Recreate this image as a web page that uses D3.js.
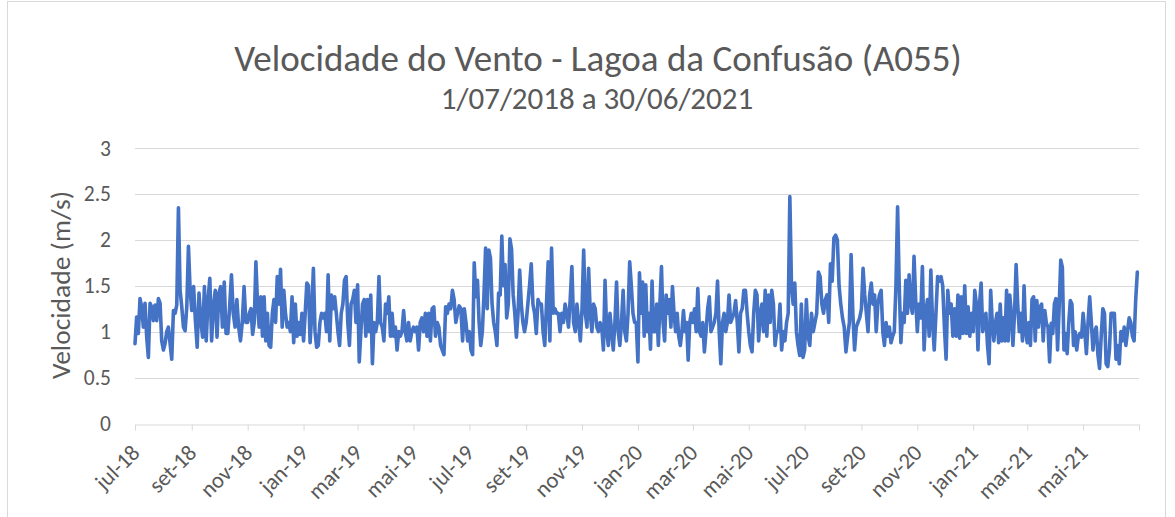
<!DOCTYPE html>
<html>
<head>
<meta charset="utf-8">
<script src="https://cdnjs.cloudflare.com/ajax/libs/d3/7.8.5/d3.min.js"></script>
<style>
	body { margin: 0; background: #fff; }
	svg { display: block; font-family: Calibri, Carlito, Lato, "Open Sans", sans-serif; }
</style>
</head>
<body>
<svg class="chart" width="1175" height="517"></svg>
<script>
(function() {

// DATA - velocidade diaria (m/s), um array por bimestre

	var inicioBimestres = ['2018-07-01','2018-09-01','2018-11-01','2019-01-01','2019-03-01','2019-05-01',
		'2019-07-01','2019-09-01','2019-11-01','2020-01-01','2020-03-01','2020-05-01',
		'2020-07-01','2020-09-01','2020-11-01','2021-01-01','2021-03-01','2021-05-01'];
	var fimSerie = '2021-07-01';

	var jul18 = [0.87,1.16,0.98,1.36,1.27,1.05,1.31,0.94,0.72,1.31,1.27,1.12,1.29,1.12,1.36,1.31,0.9,0.8,0.87,1.0,1.05,0.87,0.7,1.23,1.2,1.29,2.35,1.45,1.27,1.05,1.01,1.27,1.93,1.45];
	var set18 = [1.23,1.49,1.12,0.83,1.42,1.12,0.94,1.49,0.9,1.34,1.58,0.9,1.27,1.45,0.94,1.42,1.49,1.05,1.54,0.98,0.98,1.27,1.62,1.2,1.05,1.35,1.05,0.9,1.1,1.49,1.1];
	var nov18 = [1.1,1.2,1.25,0.97,1.1,1.76,1.3,1.05,1.38,0.95,1.38,0.9,1.2,0.85,0.83,1.2,1.35,1.1,1.6,1.3,1.68,1.05,1.45,1.2,1.05,1.1,1.0,1.38,0.88,1.3,0.95,1.1,0.97,1.2];
	var jan19 = [0.9,1.2,1.53,1.5,0.88,1.2,1.69,1.0,0.83,0.85,1.1,1.2,1.15,1.2,1.0,1.62,0.9,1.4,1.25,1.38,1.2,1.0,0.85,1.2,1.3,1.56,1.6,1.1,0.85,1.3,1.35,1.45,1.1];
	var mar19 = [1.51,0.67,1.0,1.3,1.35,0.95,1.35,1.0,1.4,0.65,1.1,1.0,1.1,1.6,1.1,1.05,0.9,1.3,1.2,1.38,0.95,1.2,0.95,1.05,0.8,1.0,0.95,1.0,1.23,1.0,0.9,1.1,0.9,1.0];
	var mai19 = [1.05,1.0,1.05,0.8,1.1,1.15,1.0,1.2,0.95,1.2,0.9,1.25,1.27,0.95,1.1,1.05,0.85,0.8,0.75,1.27,1.2,1.3,1.25,1.45,1.35,1.1,1.2,1.28,1.25,0.9,1.25,1.1,0.9];
	var jul19 = [1.0,0.8,0.75,1.75,1.38,1.56,1.1,0.85,1.0,1.4,1.91,1.25,1.89,1.8,1.3,1.1,1.0,0.85,1.42,1.4,2.04,1.5,1.73,1.15,1.3,2.01,1.9,1.4,1.2,0.94,1.2,1.67,1.3,1.1,1.0];
	var set19 = [1.1,1.3,1.5,1.74,1.3,1.2,0.98,1.35,1.3,1.3,1.0,0.85,1.3,1.76,0.9,1.91,1.2,1.25,1.2,1.2,1.0,1.2,1.1,1.3,1.2,1.05,1.35,1.71,1.1,1.0,1.3,1.1,0.9];
	var nov19 = [1.25,1.89,1.2,1.05,1.69,1.2,1.0,1.3,1.25,1.05,1.0,1.1,1.05,0.8,1.56,1.0,0.85,1.2,1.0,0.8,1.1,1.54,1.0,0.85,1.1,1.45,1.0,0.9,1.2,1.76,1.5,1.2,1.1,1.1];
	var jan20 = [0.67,1.64,1.2,1.54,0.95,1.51,1.0,1.2,0.81,1.55,1.0,1.0,1.3,0.85,1.3,1.71,1.1,0.9,1.4,1.2,1.35,1.05,1.49,1.2,1.0,1.2,0.95,0.85,1.0,1.23,1.0,1.1,0.69,1.1,1.2];
	var mar20 = [1.1,1.25,1.0,1.47,1.0,0.95,1.1,0.78,1.0,1.25,1.38,1.0,1.05,1.1,1.2,1.55,1.0,0.65,1.1,1.2,1.0,1.1,1.4,1.1,1.15,1.2,1.34,1.1,0.78,1.2,1.25,1.45,1.45,1.2];
	var mai20 = [1.0,0.85,0.78,1.2,1.45,1.4,0.9,1.2,1.3,1.0,1.45,0.95,1.4,1.1,1.45,1.3,0.85,1.0,1.0,1.3,0.8,1.0,0.9,1.1,1.2,2.47,1.5,1.3,1.53,1.0,0.85,0.74,1.3,0.72];
	var jul20 = [0.8,1.35,0.95,0.85,1.2,1.0,1.1,1.2,1.65,1.6,1.3,1.2,1.35,1.4,1.1,1.74,1.55,2.02,2.05,2.0,1.5,1.3,1.15,1.05,0.78,0.95,1.1,1.84,1.2,0.8,1.05,1.1,1.15];
	var set20 = [1.25,1.69,1.4,1.2,1.0,1.4,1.53,1.3,1.4,1.0,1.3,1.4,1.45,1.0,0.85,1.1,0.95,1.05,0.88,0.95,1.0,1.5,2.36,1.5,0.88,1.2,1.1,1.56,1.2,1.62,1.3,1.2,1.82,1.35];
	var nov20 = [1.0,1.3,1.15,1.71,0.8,1.2,1.35,0.95,1.67,1.1,0.8,1.2,1.6,1.55,1.6,1.5,1.05,0.7,1.45,1.2,1.3,0.95,1.25,0.95,1.4,0.93,1.38,0.98,1.5,0.98,1.27,0.95,1.2];
	var jan21 = [1.0,1.45,1.3,0.8,1.3,1.53,1.0,1.1,1.2,0.85,0.65,1.45,1.1,0.9,1.1,1.2,0.88,1.3,0.9,1.15,0.9,1.45,0.9,1.4,1.2,0.85,1.2,1.73,1.3,1.0,1.2,0.9,1.5,1.0];
	var mar21 = [0.88,1.1,0.85,1.35,1.38,0.9,1.34,1.05,1.27,1.3,0.9,1.23,1.09,1.05,0.67,1.09,0.98,1.3,1.36,0.8,1.27,1.78,1.7,0.8,0.98,0.76,1.09,1.34,1.3,0.85,1.0,0.8,0.95,0.98,0.94];
	var mai21 = [1.2,1.0,0.76,1.1,1.38,1.1,0.8,1.0,1.05,0.75,0.6,0.95,1.25,1.2,0.65,0.62,0.8,1.2,1.2,1.2,0.7,0.85,0.65,1.0,0.9,1.05,0.85,1.0,1.15,1.1,0.95,0.9,1.35,1.65];

	var bimestres = [jul18,set18,nov18,jan19,mar19,mai19,jul19,set19,nov19,jan20,mar20,mai20,jul20,set20,nov20,jan21,mar21,mai21];

	var yTicks = [0, 0.5, 1, 1.5, 2, 2.5, 3];
	var mesesPt = ['jan','fev','mar','abr','mai','jun','jul','ago','set','out','nov','dez'];

	var titulo = 'Velocidade do Vento - Lagoa da Confusão (A055)';
	var subtitulo = '1/07/2018 a 30/06/2021';
	var tituloY = 'Velocidade (m/s)';

// VARS

	var svg = d3.select('.chart');
	var parseDate = d3.timeParse('%Y-%m-%d');
	var margin = {left: 135, right: 1139, top: 148, bottom: 423.5};
	var scales = {};
	var serie = [];

	function buildSerie() {
		bimestres.forEach(function(vals, k) {
			var ini = parseDate(inicioBimestres[k]);
			var fim = parseDate(k < inicioBimestres.length - 1 ? inicioBimestres[k + 1] : fimSerie);
			var span = fim - ini;
			vals.forEach(function(v, i) {
				serie.push({ date: new Date(+ini + span * i / vals.length), value: v });
			});
		});
	}

	function setupScales() {
		scales.x = d3.scaleTime()
			.domain([parseDate(inicioBimestres[0]), parseDate(fimSerie)])
			.range([margin.left, margin.right]);
		scales.y = d3.scaleLinear()
			.domain([0, 3])
			.range([margin.bottom, margin.top]);
	}

	function drawFrame() {
		svg.append('rect')
			.attr('x', 7.5).attr('y', 1.5)
			.attr('width', 1158).attr('height', 530)
			.attr('fill', '#fff')
			.attr('stroke', '#d9d9d9');

		svg.append('text')
			.attr('x', 598).attr('y', 71)
			.attr('text-anchor', 'middle')
			.attr('font-size', 37)
			.attr('fill', '#595959')
			.text(titulo);

		svg.append('text')
			.attr('x', 597).attr('y', 109)
			.attr('text-anchor', 'middle')
			.attr('font-size', 31)
			.attr('fill', '#595959')
			.text(subtitulo);
	}

	function drawAxes() {
		// gridlines + y labels
		var gy = svg.append('g').attr('class', 'axis axis--y');
		gy.selectAll('line')
			.data(yTicks.slice(1))
			.enter().append('line')
			.attr('x1', margin.left).attr('x2', margin.right)
			.attr('y1', function(d) { return Math.round(scales.y(d)) + 0.5; })
			.attr('y2', function(d) { return Math.round(scales.y(d)) + 0.5; })
			.attr('stroke', '#d9d9d9');
		gy.selectAll('text')
			.data(yTicks)
			.enter().append('text')
			.attr('x', 111)
			.attr('y', function(d) { return scales.y(d); })
			.attr('dy', '0.35em')
			.attr('text-anchor', 'end')
			.attr('font-size', 21.5)
			.attr('fill', '#595959')
			.text(function(d) { return d; });

		svg.append('text')
			.attr('transform', 'translate(70,285) rotate(-90)')
			.attr('text-anchor', 'middle')
			.attr('font-size', 27.5)
			.attr('fill', '#595959')
			.text(tituloY);

		// x axis
		var tickDates = inicioBimestres.map(parseDate).concat([parseDate(fimSerie)]);
		var xaxis = svg.append('g')
			.attr('class', 'axis axis--x')
			.attr('transform', 'translate(0,' + (Math.round(scales.y(0)) + 0.5) + ')')
			.call(d3.axisBottom(scales.x)
				.tickValues(tickDates)
				.tickSize(6)
				.tickSizeOuter(0)
				.tickFormat(function(d, i) {
					if (i === tickDates.length - 1) return '';
					return mesesPt[d.getMonth()] + '-' + d3.timeFormat('%y')(d);
				}));
		xaxis.attr('font-family', null);
		xaxis.select('.domain').attr('stroke', '#d9d9d9');
		xaxis.selectAll('.tick line').attr('stroke', '#d9d9d9');
		xaxis.selectAll('.tick text')
			.attr('font-size', 22.5)
			.attr('fill', '#595959')
			.attr('text-anchor', 'end')
			.attr('transform', 'translate(0,24) rotate(-45)')
			.attr('y', 0).attr('dy', '0.35em');
	}

	function drawLine() {
		var line = d3.line()
			.x(function(d) { return scales.x(d.date); })
			.y(function(d) { return scales.y(d.value); });

		svg.append('path')
			.datum(serie)
			.attr('d', line)
			.attr('fill', 'none')
			.attr('stroke', '#4472c4')
			.attr('stroke-width', 3.6)
			.attr('stroke-linejoin', 'round')
			.attr('stroke-linecap', 'round');
	}

	function init() {
		buildSerie();
		setupScales();
		drawFrame();
		drawAxes();
		drawLine();
	}

	init()
})()
</script>
</body>
</html>
